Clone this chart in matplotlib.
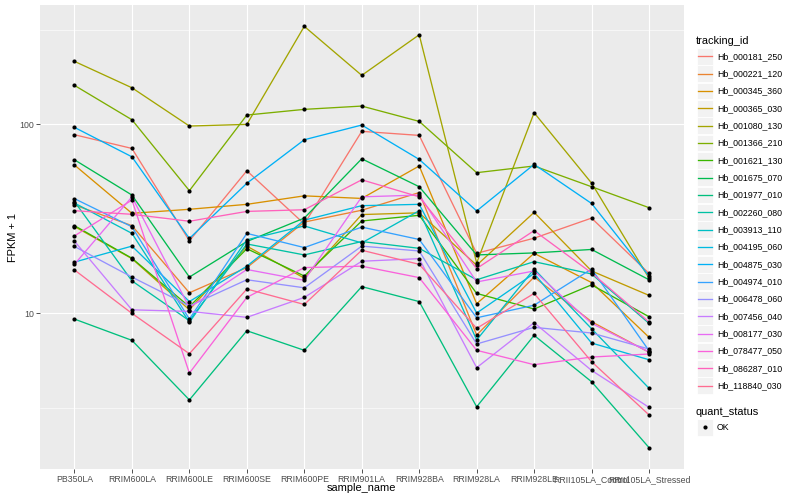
import matplotlib
matplotlib.use("Agg")
import matplotlib.pyplot as plt
from matplotlib.patches import Rectangle
from matplotlib.lines import Line2D
import numpy as np

plt.rcParams['font.family'] = ['Liberation Sans', 'DejaVu Sans']

samples = ["PB350LA", "RRIM600LA", "RRIM600LE", "RRIM600SE", "RRIM600PE",
           "RRIM901LA", "RRIM928BA", "RRIM928LA", "RRIM928LE",
           "RRII105LA_Control", "RRII105LA_Stressed"]

tracking_ids = ["Hb_000181_250", "Hb_000221_120", "Hb_000345_360", "Hb_000365_030",
                "Hb_001080_130", "Hb_001366_210", "Hb_001621_130", "Hb_001675_070",
                "Hb_001977_010", "Hb_002260_080", "Hb_003913_110", "Hb_004195_060",
                "Hb_004875_030", "Hb_004974_010", "Hb_006478_060", "Hb_007456_040",
                "Hb_008177_030", "Hb_078477_050", "Hb_086287_010", "Hb_118840_030"]

# FPKM + 1 per sample (same order as samples)
hb_000181_250 = [87.8, 74.3, 24.1, 56.6, 29.6, 91.5, 87.1, 20.7, 24.9, 31.8, 16.2]
hb_000221_120 = [37.3, 29.0, 12.8, 17.4, 30.3, 35.0, 43.4, 7.65, 15.5, 9.0, 6.2]
hb_000345_360 = [60.7, 33.7, 35.4, 37.6, 41.7, 40.4, 60.0, 11.2, 20.7, 14.5, 7.44]
hb_000365_030 = [28.7, 19.4, 10.4, 22.6, 15.3, 33.2, 33.9, 17.9, 34.1, 16.7, 12.4]
hb_001080_130 = [214.6, 155.6, 97.6, 99.6, 328.8, 181.0, 296.8, 18.4, 114.8, 48.7, 15.3]
hb_001366_210 = [160.2, 105.4, 44.4, 111.6, 119.6, 124.5, 103.3, 55.3, 60.0, 46.6, 36.1]
hb_001621_130 = [29.0, 19.5, 10.8, 21.9, 15.7, 30.7, 32.9, 12.7, 10.5, 14.1, 9.56]
hb_001675_070 = [64.7, 42.1, 15.5, 23.9, 31.8, 65.5, 46.6, 20.3, 20.8, 21.7, 15.0]
hb_001977_010 = [9.29, 7.17, 3.47, 8.06, 6.35, 13.8, 11.5, 3.19, 7.62, 4.33, 1.94]
hb_002260_080 = [38.9, 14.8, 9.11, 23.2, 20.3, 23.9, 22.0, 15.0, 18.7, 16.1, 8.82]
hb_003913_110 = [38.2, 26.4, 8.93, 24.4, 28.9, 23.5, 34.8, 7.20, 17.1, 8.26, 4.00]
hb_004195_060 = [18.6, 22.6, 11.5, 17.7, 31.0, 37.0, 37.6, 10.0, 16.2, 6.94, 5.66]
hb_004875_030 = [96.0, 67.1, 24.8, 48.6, 82.6, 98.8, 65.0, 34.7, 61.2, 38.0, 15.7]
hb_004974_010 = [40.3, 28.6, 9.29, 26.4, 22.2, 28.5, 24.5, 9.44, 11.0, 17.1, 6.32]
hb_006478_060 = [22.5, 15.5, 10.9, 15.0, 13.6, 22.6, 21.3, 6.86, 8.40, 7.84, 6.45]
hb_007456_040 = [24.0, 10.4, 10.2, 9.49, 12.1, 18.8, 19.4, 5.14, 8.89, 4.97, 3.17]
hb_008177_030 = [18.1, 41.2, 10.7, 17.0, 14.9, 41.2, 42.1, 14.6, 16.7, 8.82, 6.22]
hb_078477_050 = [25.6, 39.6, 4.81, 12.1, 17.4, 17.7, 15.4, 6.35, 5.33, 5.85, 6.07]
hb_086287_010 = [34.8, 33.3, 30.6, 34.5, 35.2, 50.7, 41.2, 17.2, 27.3, 16.3, 8.96]
hb_118840_030 = [16.9, 9.96, 6.09, 13.4, 11.1, 21.5, 18.1, 8.30, 12.7, 5.53, 2.89]

series = [hb_000181_250, hb_000221_120, hb_000345_360, hb_000365_030, hb_001080_130,
          hb_001366_210, hb_001621_130, hb_001675_070, hb_001977_010, hb_002260_080,
          hb_003913_110, hb_004195_060, hb_004875_030, hb_004974_010, hb_006478_060,
          hb_007456_040, hb_008177_030, hb_078477_050, hb_086287_010, hb_118840_030]

colors = ["#F8766D", "#EA8331", "#D89000", "#C09B00", "#A3A500", "#7CAE00", "#39B600",
          "#00BB4E", "#00BF7D", "#00C1A3", "#00BFC4", "#00BAE0", "#00B0F6", "#35A2FF",
          "#9590FF", "#C77CFF", "#E76BF3", "#FA62DB", "#FF62BC", "#FF6C91"]

W, H = 800, 500
fig = plt.figure(figsize=(W / 100, H / 100), dpi=100)
fig.patch.set_facecolor("white")

px_l, px_r, px_t, px_b = 40, 683.5, 5.3, 468.7
ax = fig.add_axes([px_l / W, 1 - px_b / H, (px_r - px_l) / W, (px_b - px_t) / H])
ax.set_facecolor("#EBEBEB")
for s in ax.spines.values():
    s.set_visible(False)

x = np.arange(len(samples))
ax.set_yscale("log")
allv = np.concatenate([np.array(v) for v in series])
lo, hi = np.log10(allv.min()), np.log10(allv.max())
pad = 0.05 * (hi - lo)
ax.set_ylim(10 ** (lo - pad), 10 ** (hi + pad))
ax.set_xlim(-0.6, len(samples) - 1 + 0.6)

# grid
for yv in [10 ** 0.5, 10 ** 1.5, 10 ** 2.5]:
    ax.axhline(yv, color="white", lw=0.4, zorder=0.5)
for yv in [10, 100]:
    ax.axhline(yv, color="white", lw=0.85, zorder=0.6)
for xv in x:
    ax.axvline(xv, color="white", lw=0.85, zorder=0.6)

for vals, c in zip(series, colors):
    ax.plot(x, vals, color=c, lw=0.95, zorder=2, solid_capstyle="butt")
for vals in series:
    ax.plot(x, vals, linestyle="none", marker="o", ms=3.0, color="black",
            markeredgewidth=0, zorder=3)

ax.set_yticks([10, 100])
ax.set_yticklabels(["10", "100"])
ax.yaxis.set_minor_locator(matplotlib.ticker.NullLocator())
ax.set_xticks(x)
ax.set_xticklabels(samples)
ax.tick_params(axis="both", which="major", length=2.75, width=0.6, color="#333333",
               labelsize=6.3, labelcolor="#4D4D4D", pad=1.8)
ax.set_xlabel("sample_name", fontsize=7.9, color="black", labelpad=-0.5)
ax.set_ylabel("FPKM + 1", fontsize=7.9, color="black", labelpad=1)

# legend drawn in pixel space
lax = fig.add_axes([0, 0, 1, 1])
lax.set_xlim(0, W)
lax.set_ylim(H, 0)
lax.axis("off")
lax.patch.set_alpha(0)

lax.text(696, 40.7, "tracking_id", fontsize=7.9, va="center", ha="left", color="black")
y0, dy = 56.3, 17.34
for i, (tid, c) in enumerate(zip(tracking_ids, colors)):
    yc = y0 + i * dy
    lax.add_patch(Rectangle((696.5, yc - 8.3), 16.6, 16.6, facecolor="#F2F2F2",
                            edgecolor="white", lw=0.6))
    lax.add_line(Line2D([698, 711.5], [yc, yc], color=c, lw=0.95))
    lax.text(717, yc, tid, fontsize=6.3, va="center", ha="left", color="black")

lax.text(696, 411.7, "quant_status", fontsize=7.9, va="center", ha="left", color="black")
lax.add_patch(Rectangle((696.5, 427.3 - 8.3), 16.6, 16.6, facecolor="#F2F2F2",
                        edgecolor="white", lw=0.6))
lax.plot([704.8], [427.3], marker="o", ms=3.0, color="black", markeredgewidth=0)
lax.text(717, 427.3, "OK", fontsize=6.3, va="center", ha="left", color="black")

fig.savefig("out.png", dpi=100)
